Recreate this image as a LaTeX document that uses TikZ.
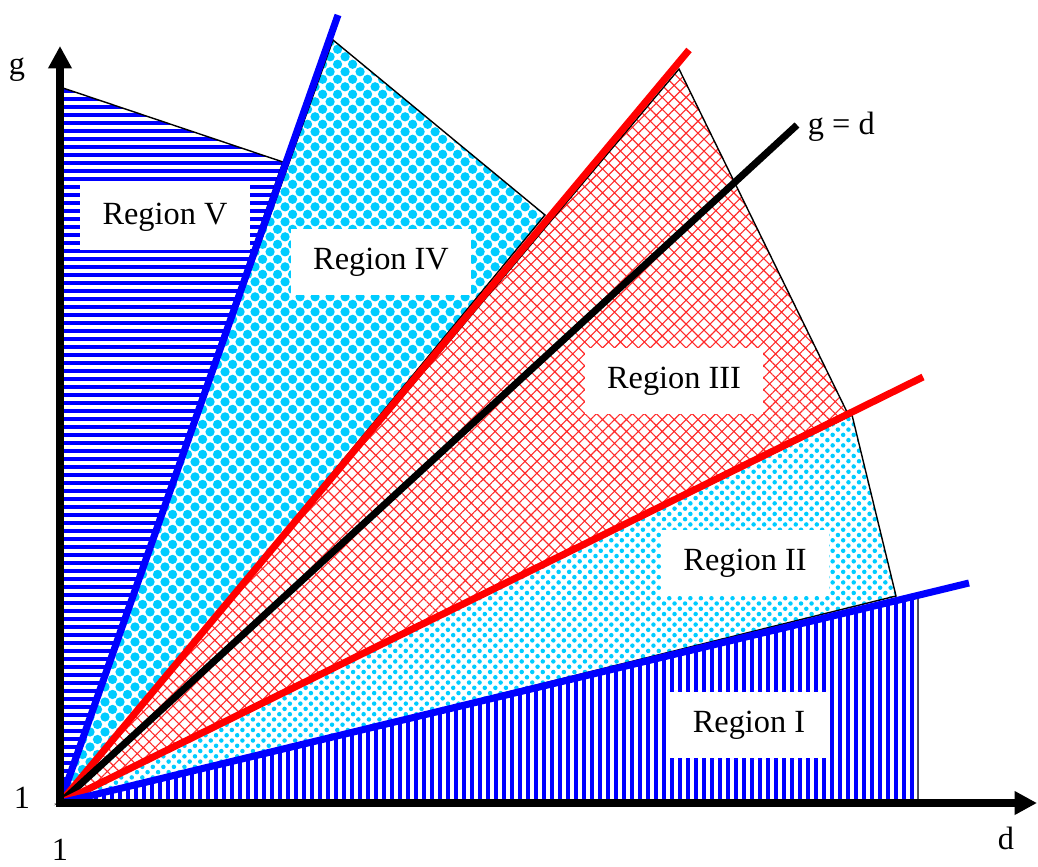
\documentclass[tikz,border=0pt]{standalone}
\usepackage{fontspec}
\setmainfont{Liberation Serif}
\usetikzlibrary{arrows.meta,patterns.meta}
\definecolor{skyfill}{HTML}{00CCFF}
\definecolor{hatchred}{HTML}{FF2A2A}

\begin{document}
\begin{tikzpicture}[x=0.025cm, y=-0.025cm,
  lbl/.style={font=\fontsize{23}{27}\selectfont, text=black},
  regionbox/.style={lbl, fill=white, inner xsep=16pt, minimum height=47pt},
  edge/.style={draw=black, line width=1pt},
  bound/.style={line width=5pt},
  axis/.style={line width=5pt, line cap=rect, -{Triangle[length=16pt,width=16pt]}},
]
  \useasboundingbox (0,0) rectangle (1038,867);
  \coordinate (O) at (60,803);
  \coordinate (yend) at (60,46);
  \coordinate (xend) at (1037,803);
  \coordinate (v1) at (60,87);
  \coordinate (v2) at (283,162);
  \coordinate (iv1) at (333,40);
  \coordinate (iv2) at (545,215);
  \coordinate (iii1) at (679,69);
  \coordinate (iii2) at (847,412);
  \coordinate (ii1) at (852,415);
  \coordinate (ii2) at (896,596);
  \coordinate (i1) at (918,596);
  \coordinate (i2) at (918,803);
  \coordinate (bu) at (338,15);
  \coordinate (ru) at (689,50);
  \coordinate (gd) at (797,125);
  \coordinate (rl) at (923,377);
  \coordinate (bl) at (969,583);

  \fill[pattern={Lines[angle=0,distance=5.69pt,line width=2.9pt]}, pattern color=blue] (O) -- (v1) -- (v2) -- cycle;
  \fill[pattern={Dots[distance=10.67pt,radius=3.3pt]}, pattern color=skyfill] (O) -- (iv1) -- (iv2) -- cycle;
  \fill[pattern={Dots[distance=10.67pt,radius=3.3pt,xshift=5.33pt,yshift=5.33pt]}, pattern color=skyfill] (O) -- (iv1) -- (iv2) -- cycle;
  \fill[pattern={Hatch[angle=45,distance=6pt,line width=0.8pt]}, pattern color=hatchred] (O) -- (iii1) -- (iii2) -- cycle;
  \fill[pattern={Dots[distance=5.3pt,radius=1.6pt,angle=45]}, pattern color=skyfill] (O) -- (ii1) -- (ii2) -- cycle;
  \fill[pattern={Lines[angle=90,distance=5.69pt,line width=3pt]}, pattern color=blue] (O) -- (i1) -- (i2) -- cycle;

  \draw[edge] (O) -- (v1) -- (v2) -- cycle;
  \draw[edge] (O) -- (iv1) -- (iv2) -- cycle;
  \draw[edge] (O) -- (iii1) -- (iii2) -- cycle;
  \draw[edge] (O) -- (ii1) -- (ii2) -- cycle;
  \draw[edge] (O) -- (i1) -- (i2) -- cycle;

  \draw[bound, blue] (O) -- (bu);
  \draw[bound, red] (O) -- (ru);
  \draw[bound, black] (O) -- (gd);
  \draw[bound, red] (O) -- (rl);
  \draw[bound, blue] (O) -- (bl);

  \draw[axis] (O) -- (yend);
  \draw[axis] (O) -- (xend);

  \node[regionbox] (rv) at (165,217) {Region V};
  \node[regionbox] (riv) at (381,262) {Region IV};
  \node[regionbox] (riii) at (674,381) {Region III};
  \node[regionbox] (rii) at (745,563) {Region II};
  \node[regionbox] (ri) at (749,725) {Region I};

  \node[lbl] (glab) at (17,70) {g};
  \node[lbl] (dlab) at (1006,838) {d};
  \node[lbl] (yone) at (22,798) {1};
  \node[lbl] (xone) at (60,850) {1};
  \node[lbl, anchor=west] (gdlab) at (803,127) {g = d};
\end{tikzpicture}
\end{document}
